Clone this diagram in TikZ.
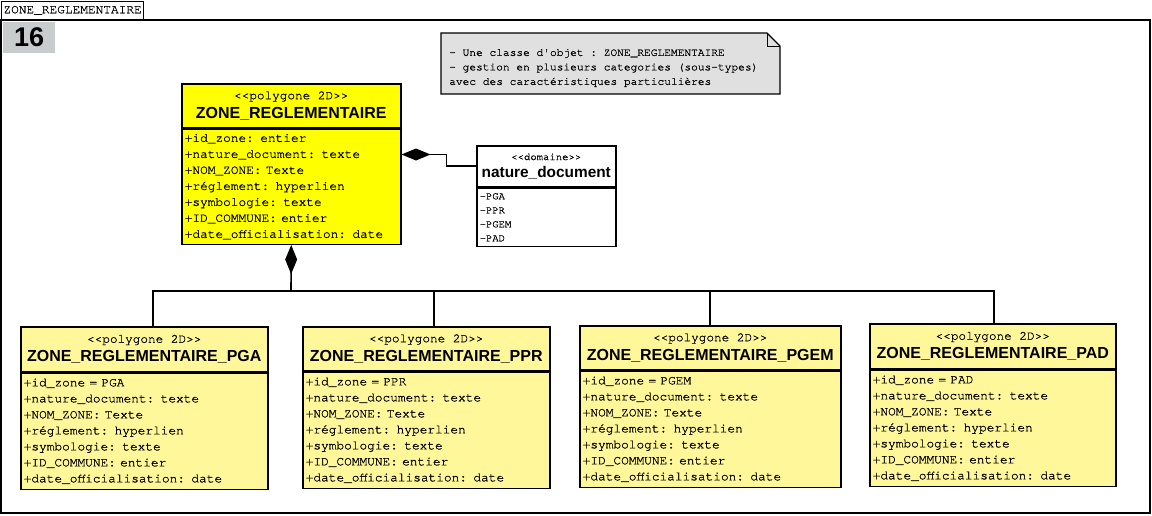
\documentclass[tikz,border=0pt]{standalone}
\usepackage{fontspec}
\setmainfont{Liberation Sans}
\setmonofont{texgyrecursor-regular.otf}[FakeBold=0.8]
\usetikzlibrary{positioning, arrows.meta}
\definecolor{zoneyellow}{RGB}{255,255,0}
\definecolor{subyellow}{RGB}{255,247,153}
\definecolor{notegray}{RGB}{224,224,224}
\definecolor{taggray}{RGB}{200,204,204}
\newcommand{\attrfont}{\ttfamily\fontsize{12.8}{16}\selectfont}
\newcommand{\stereofont}{\ttfamily\fontsize{12.7}{19}\selectfont}
\newcommand{\titlefont}{\rmfamily\bfseries\fontsize{16}{19}\selectfont}
\newcommand{\subattrs}[1]{+id\_zone = #1\\+nature\_document: texte\\
  +NOM\_ZONE: Texte\\+réglement: hyperlien\\+symbologie: texte\\
  +ID\_COMMUNE: entier\\+date\_officialisation: date}
\tikzset{
    headbox/.style={draw, line width=1.5pt, anchor=north west, align=center,
    	inner sep=0pt, minimum width=#1, minimum height=44pt, font=\stereofont},
    attrbox/.style={draw, line width=1.5pt, align=left, inner xsep=3pt,
    	inner ysep=0pt, text width=#1, minimum height=116pt, font=\attrfont},
    link/.style={line width=1.6pt},
    compo/.style={link, {Diamond[length=29pt,width=12pt]}-}
}

\begin{document}
\begin{tikzpicture}[x=1pt, y=-1pt]
	\useasboundingbox (0, 0) rectangle (1152, 515);
	% frame
	\draw[line width=1.5pt] (1, 20) rectangle (1150, 513);
	\node (tab) [draw, line width=1.2pt, anchor=south west, inner sep=0pt,
		minimum width=142pt, minimum height=18pt, font=\attrfont] at (1, 20)
		{ZONE\_REGLEMENTAIRE};
	\node (num) [fill=taggray, anchor=north west, inner sep=0pt, minimum width=52pt,
		minimum height=31pt, font=\bfseries\fontsize{27}{27}\selectfont] at (3, 22) {16};

	% note
	\draw[line width=1.2pt, fill=notegray] (441, 33) -- (767, 33) -- (780, 46)
		-- (780, 94) -- (441, 94) -- cycle;
	\draw[line width=1pt] (767, 33) -- (767, 46) -- (780, 46);
	\node (note) [anchor=west, align=left, inner sep=0pt,
		font=\ttfamily\fontsize{11.2}{14.5}\selectfont] at (449, 68)
		{- Une classe d'objet : ZONE\_REGLEMENTAIRE\\
		 - gestion en plusieurs categories (sous-types)\\
		 avec des caractéristiques particulières};

	% main class
	\node (zhead) [headbox=219pt, fill=zoneyellow] at (181, 83)
		{<<polygone 2D>>\\{\titlefont ZONE\_REGLEMENTAIRE}};
	\node (zbody) [attrbox=213pt, minimum height=115pt, fill=zoneyellow, below=0pt of zhead]
		{+id\_zone: entier\\+nature\_document: texte\\+NOM\_ZONE: Texte\\
		 +réglement: hyperlien\\+symbologie: texte\\+ID\_COMMUNE: entier\\
		 +date\_officialisation: date};

	% domain
	\node (nhead) [headbox=139pt, fill=white, minimum height=41pt,
		font=\ttfamily\fontsize{10.6}{17}\selectfont] at (476, 145)
		{<<domaine>>\\{\bfseries\rmfamily\fontsize{15.4}{17}\selectfont nature\_document}};
	\node (nbody) [attrbox=133pt, minimum height=58pt, fill=white, below=0pt of nhead,
		font=\ttfamily\fontsize{10.5}{14}\selectfont]
		{-PGA\\-PPR\\-PGEM\\-PAD};

	% sub classes
	\node (pgahead) [headbox=247pt, fill=subyellow, minimum height=45pt] at (20, 326)
		{<<polygone 2D>>\\{\titlefont ZONE\_REGLEMENTAIRE\_PGA}};
	\node (pgabody) [attrbox=241pt, fill=subyellow, below=0pt of pgahead] {\subattrs{PGA}};
	\node (pprhead) [headbox=247pt, fill=subyellow] at (302, 326)
		{<<polygone 2D>>\\{\titlefont ZONE\_REGLEMENTAIRE\_PPR}};
	\node (pprbody) [attrbox=241pt, fill=subyellow, below=0pt of pprhead] {\subattrs{PPR}};
	\node (pgemhead) [headbox=261pt, fill=subyellow] at (579, 325)
		{<<polygone 2D>>\\{\titlefont ZONE\_REGLEMENTAIRE\_PGEM}};
	\node (pgembody) [attrbox=255pt, fill=subyellow, below=0pt of pgemhead] {\subattrs{PGEM}};
	\node (padhead) [headbox=246pt, fill=subyellow, minimum height=45pt] at (869, 323)
		{<<polygone 2D>>\\{\titlefont ZONE\_REGLEMENTAIRE\_PAD}};
	\node (padbody) [attrbox=240pt, fill=subyellow, below=0pt of padhead] {\subattrs{PAD}};

	% links
	\draw[compo] ([yshift=-26pt]zbody.north east) -- ++(45, 0) |- (nhead.west);
	\coordinate (bus) at (291, 291);
	\draw[compo] (zbody.south) -- (bus);
	\draw[link] ([xshift=8.5pt]pgahead.north) |- (bus) -| ([xshift=1pt]padhead.north);
	\draw[link] ([xshift=7.5pt]pprhead.north) -- ++(0, -35);
	\draw[link] (pgemhead.north) -- ++(0, -34);
\end{tikzpicture}
\end{document}
